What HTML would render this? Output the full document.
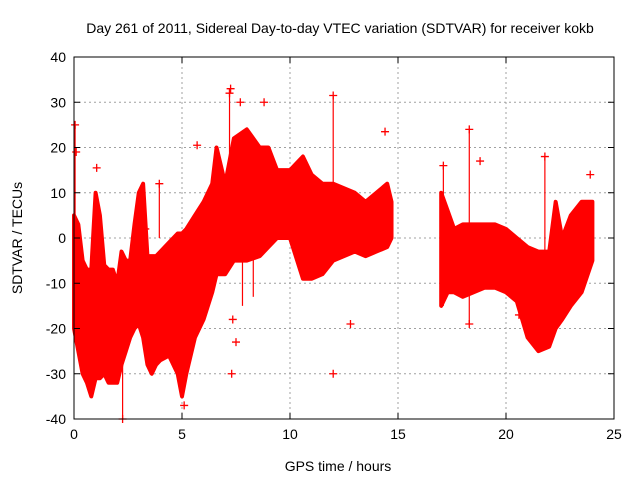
<!DOCTYPE html>
<html><head><meta charset="utf-8"><style>
body{margin:0;background:#fff}
svg{display:block;font-family:"Liberation Sans",sans-serif}
</style></head><body>
<svg id="chart" width="640" height="480" viewBox="0 0 640 480">
<text x="340" y="33" font-size="14" text-anchor="middle" fill="#000">Day 261 of 2011, Sidereal Day-to-day VTEC variation (SDTVAR) for receiver kokb</text>
<text x="338" y="471" font-size="14" text-anchor="middle">GPS time / hours</text>
<text transform="translate(22,238) rotate(-90)" font-size="14" text-anchor="middle">SDTVAR / TECUs</text>
<g id="grid"></g><g id="data"></g><g id="axes"></g>
</svg>
<script>
const xTicks=[0,5,10,15,20,25];
const yTicks=[-40,-30,-20,-10,0,10,20,30,40];
const seg1Hours=[0,0.2,0.4,0.6,0.8,1.0,1.2,1.4,1.6,1.8,2.0,2.2,2.4,2.6,2.8,3.0,3.2,3.4,3.6,3.8,4.0,4.4,4.8,5.0,5.2,5.6,6.0,6.4,6.6,7.0,7.4,8.0,8.6,9.0,9.4,10.0,10.6,11.0,11.5,12,13,13.5,14,14.5,14.7];
const seg1Upper=[5,3,-5,-7,-7,10,5,-6,-7,-7,-10,-3,-5,-5,3,10,12,-4,-4,-4,-3,-1,1,1,2,5,8,12,20,12,22,24,20,20,15,15,18,14,12,12,10,8,10,12,8];
const seg1Lower=[-20,-25,-30,-32,-35,-31,-31,-30,-32,-32,-32,-28,-25,-22,-20,-19,-22,-28,-30,-28,-27,-26,-30,-35,-30,-22,-18,-12,-8,-8,-5,-5,-4,-2,0,0,-9,-9,-8,-5,-3,-4,-3,-2,0];
const seg2Hours=[17.0,17.3,17.6,18.0,18.5,19.0,19.5,20.0,20.5,21.0,21.5,22.0,22.3,22.6,23.0,23.5,24.0];
const seg2Upper=[10,6,2,3,3,3,3,2,0,-2,-3,-3,8,0,5,8,8];
const seg2Lower=[-15,-12,-12,-13,-12,-11,-11,-12,-14,-22,-25,-24,-20,-18,-15,-12,-5];
const outX=[0.05,0.1,1.05,3.95,5.7,7.2,7.25,7.7,8.8,12,12.8,12,7.3,7.5,7.35,2.25,14.4,18.3,18.3,18.8,20.6,21.8,23.9,17.1,5.1,3.3];
const outY=[25,19,15.5,12,20.5,32,33,30,30,31.5,-19,-30,-30,-23,-18,-40,23.5,24,-19,17,-17,18,14,16,-37,2];
const spikeX=[7.2,12,3.95,7.8,8.3,2.25,17.1,18.3,21.8,0.05];
const spikeTop=[33,31.5,12,-5,-4,-28,16,24,18,25];
const spikeBot=[10,10,0,-15,-13,-40,-15,-19,-5,-5];
const X0=74,X1=614,Y0=57,Y1=419;
const xs=v=>X0+(v-0)/25*(X1-X0);
const ys=v=>Y1-(v+40)/80*(Y1-Y0);
const NS='http://www.w3.org/2000/svg';
function mk(t,a,p){const e=document.createElementNS(NS,t);for(const k in a)e.setAttribute(k,a[k]);p.appendChild(e);return e;}
const grid=document.getElementById('grid'),data=document.getElementById('data'),axes=document.getElementById('axes');
xTicks.forEach(t=>{
 if(t>0&&t<25){const g=mk('line',{x1:xs(t),x2:xs(t),y1:Y0,y2:Y1,stroke:'#a0a0a0','stroke-dasharray':'2,3'},grid);
 
 }
 const l=mk('text',{x:xs(t),y:Y1+20,'font-size':14,'text-anchor':'middle'},axes);l.textContent=t;
 
 
 mk('line',{x1:xs(t),x2:xs(t),y1:Y1,y2:Y1-6,stroke:'#000'},axes);
 mk('line',{x1:xs(t),x2:xs(t),y1:Y0,y2:Y0+6,stroke:'#000'},axes);
});
yTicks.forEach(t=>{
 if(t>-40&&t<40){const g=mk('line',{x1:X0,x2:X1,y1:ys(t),y2:ys(t),stroke:'#a0a0a0','stroke-dasharray':'2,3'},grid);
 
 }
 const l=mk('text',{x:X0-8,y:ys(t)+5,'font-size':14,'text-anchor':'end'},axes);l.textContent=t;
 
 
 mk('line',{x1:X0,x2:X0+6,y1:ys(t),y2:ys(t),stroke:'#000'},axes);
 mk('line',{x1:X1,x2:X1-6,y1:ys(t),y2:ys(t),stroke:'#000'},axes);
});
const fr=mk('rect',{x:X0,y:Y0,width:X1-X0,height:Y1-Y0,fill:'none',stroke:'#000'},axes);


function band(h,u,lo,name){
 let pts=h.map((v,i)=>xs(v)+','+ys(u[i]));
 for(let i=h.length-1;i>=0;i--)pts.push(xs(h[i])+','+ys(lo[i]));
 const p=mk('polygon',{points:pts.join(' '),fill:'#ff0000',stroke:'#ff0000','stroke-width':4,'stroke-linejoin':'round'},data);
 
 
}
band(seg1Hours,seg1Upper,seg1Lower,'sdtvar-band-0-15h');
band(seg2Hours,seg2Upper,seg2Lower,'sdtvar-band-17-24h');
spikeX.forEach((x,i)=>{
 const s=mk('line',{x1:xs(x),x2:xs(x),y1:ys(spikeTop[i]),y2:ys(spikeBot[i]),stroke:'#ff0000','stroke-width':1.2},data);
 
 
});
outX.forEach((x,i)=>{
 const g=mk('path',{d:`M${xs(x)-4},${ys(outY[i])}h8M${xs(x)},${ys(outY[i])-4}v8`,stroke:'#ff0000','stroke-width':1.3},data);
 
 
});
</script>
</body></html>
